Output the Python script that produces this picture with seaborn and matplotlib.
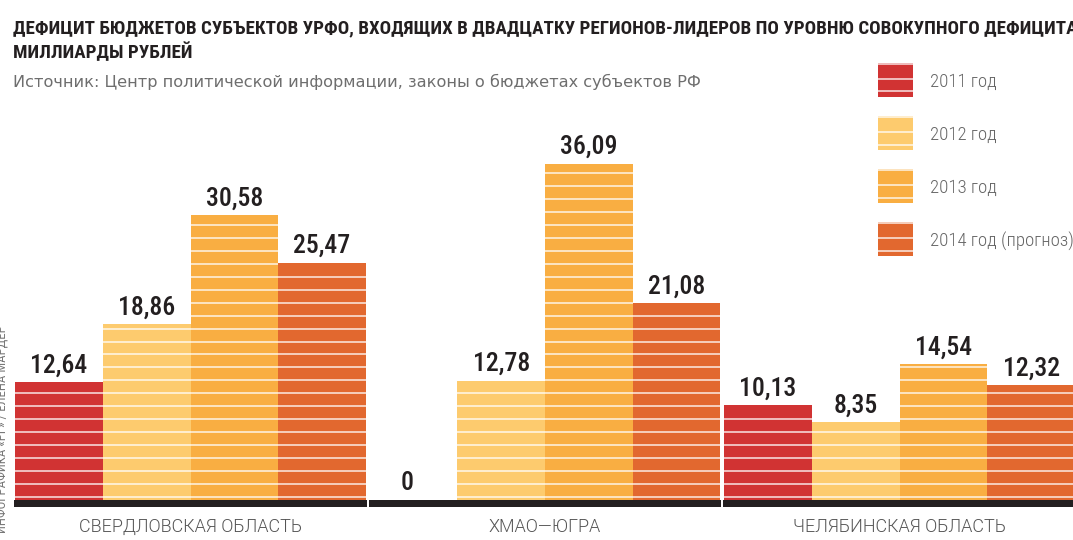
import matplotlib
matplotlib.use("Agg")
import matplotlib.pyplot as plt
from matplotlib.patches import Rectangle
import numpy as np
import pandas as pd
import seaborn as sns

# ---- data ----
regions = ["СВЕРДЛОВСКАЯ ОБЛАСТЬ", "ХМАО—ЮГРА", "ЧЕЛЯБИНСКАЯ ОБЛАСТЬ"]
years = ["2011 год", "2012 год", "2013 год", "2014 год (прогноз)"]
v2011 = [12.64, 0.0, 10.13]
v2012 = [18.86, 12.78, 8.35]
v2013 = [30.58, 36.09, 14.54]
v2014 = [25.47, 21.08, 12.32]
colors = ["#D13333", "#FDCB6E", "#F9AE42", "#E2682F"]

title_l1 = ("ДЕФИЦИТ БЮДЖЕТОВ СУБЪЕКТОВ УРФО, ВХОДЯЩИХ В ДВАДЦАТКУ "
            "РЕГИОНОВ-ЛИДЕРОВ ПО УРОВНЮ СОВОКУПНОГО ДЕФИЦИТА,")
title_l2 = "МИЛЛИАРДЫ РУБЛЕЙ"
source = "Источник: Центр политической информации, законы о бюджетах субъектов РФ"
credit = "ИНФОГРАФИКА «РГ» / ЕЛЕНА МАРДЕР"

df = pd.DataFrame({
    "region": np.repeat(regions, len(years)),
    "year": years * len(regions),
    "value": [v for trip in zip(v2011, v2012, v2013, v2014) for v in trip],
})

sns.set_theme(style="white")
COND = ["Roboto Condensed", "DejaVu Sans"]
REG = ["Roboto", "DejaVu Sans"]
WIDE = ["DejaVu Sans"]
plt.rcParams["font.family"] = COND

W, H, DPI = 1073, 540, 100
fig = plt.figure(figsize=(W / DPI, H / DPI), dpi=DPI)
fig.patch.set_facecolor("white")
ax = fig.add_axes([0, 0, 1, 1])

BAR_W = 0.99
sns.barplot(data=df, x="region", y="value", hue="year", order=regions,
            hue_order=years, palette=colors, saturation=1, width=BAR_W,
            linewidth=0, legend=False, ax=ax)

px_per_unit = 9.31
base_px = 499.7
ax.set_ylim((base_px - H) / px_per_unit, base_px / px_per_unit)
unit_px = 354.5
ax.set_xlim(-190.5 / unit_px, (W - 190.5) / unit_px)
ax.axis("off")

# horizontal light stripes inside every bar
step = 12.95 / px_per_unit
levels = np.arange(0.3, 60, step)
bars = [p for p in ax.patches]
for p in bars:
    h = p.get_height()
    x0 = p.get_x()
    x1 = x0 + p.get_width()
    ys = levels[levels < h - 0.15]
    if len(ys):
        ax.hlines(ys, x0, x1, colors="white", linewidth=1.2, alpha=0.8, zorder=3)

# black baseline segments per region
ax.bar(np.arange(len(regions)), -7.2 / px_per_unit, width=BAR_W + 0.004,
       color="#231F20", linewidth=0, zorder=4)

# value labels
for p in bars:
    h = p.get_height()
    cx = p.get_x() + p.get_width() / 2
    txt = f"{h:.2f}".replace(".", ",") if h > 0 else "0"
    off = 9.5 if h > 0 else 10
    ax.annotate(txt, (cx, h), xytext=(0 if h > 0 else -6, off),
                textcoords="offset pixels", ha="center", va="baseline",
                fontsize=18.5, fontweight=500, color="#231F20", family=COND)

# category labels
for i, r in enumerate(regions):
    ax.annotate(r, (i, 0), xytext=(0, -(531.5 - base_px)), textcoords="offset pixels",
                ha="center", va="baseline", fontsize=13, fontweight=300,
                color="#555555", family=REG)


def fx(px):
    return px / W


def fy(py):
    return 1 - py / H


# titles
fig.text(fx(13), fy(33.5), title_l1, fontsize=13.65, fontweight="bold",
         color="#231F20", va="baseline", ha="left", family=COND)
fig.text(fx(13), fy(58), title_l2, fontsize=13.65, fontweight="bold",
         color="#231F20", va="baseline", ha="left", family=COND)
fig.text(fx(13), fy(87), source, fontsize=11.6, fontweight="normal",
         color="#6E6E6E", va="baseline", ha="left", family=WIDE)

# credit (vertical)
fig.text(fx(8.5), fy(533), credit, rotation=90, fontsize=9.3, color="#777777",
         ha="right", va="bottom", family=COND)

# legend (manual, striped swatches)
row_top = [62.7, 115.9, 169.1, 222.3]
sw_h, sw_w, sw_x = 34, 34.5, 878
for c, lab, t in zip(colors, years, row_top):
    fig.patches.append(Rectangle((fx(sw_x), fy(t + sw_h)), sw_w / W, sw_h / H,
                                 transform=fig.transFigure, facecolor=c,
                                 edgecolor="none", zorder=2))
    for off in (1.0, 16.0, 28.7):
        fig.lines.append(plt.Line2D([fx(sw_x), fx(sw_x + sw_w)], [fy(t + off)] * 2,
                                    transform=fig.transFigure, color="white",
                                    linewidth=1.2, alpha=0.8, zorder=3))
    fig.text(fx(930), fy(t + sw_h / 2), lab, fontsize=13.6, fontweight=300,
             color="#666666", va="center_baseline", ha="left", family=COND)

fig.savefig("out.png", dpi=DPI, facecolor="white")
